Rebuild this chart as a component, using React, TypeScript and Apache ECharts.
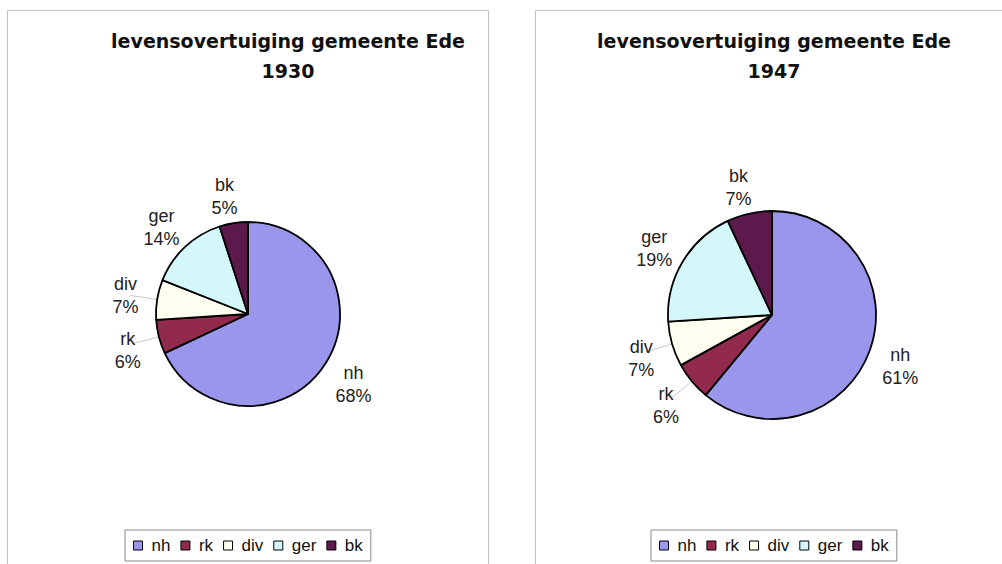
import React, { useEffect, useRef } from 'react';
import * as echarts from 'echarts';

const categories = ['nh', 'rk', 'div', 'ger', 'bk'];
const values1930 = [68, 6, 7, 14, 5];
const values1947 = [61, 6, 7, 19, 7];
const years = ['1930', '1947'];
const titleText = 'levensovertuiging gemeente Ede';
const colors = ['#9a96ec', '#922a4e', '#fffff0', '#d4f7f9', '#5c1a4c'];
const leaderLineCategories = ['rk', 'div'];

const labelFont = '"Liberation Sans", Arial, sans-serif';

export default function App() {
  const ref = useRef<HTMLDivElement>(null);

  useEffect(() => {
    document.body.style.margin = '0';
    const chart = echarts.init(ref.current as HTMLDivElement, null, { renderer: 'svg' });

    const makeSeries = (vals: number[], center: number[], radius: number) => ({
      type: 'pie',
      center,
      radius,
      startAngle: 90,
      clockwise: true,
      avoidLabelOverlap: false,
      silent: true,
      data: categories.map((c, i) => ({
        name: c,
        value: vals[i],
        itemStyle: { color: colors[i] },
        labelLine: { show: leaderLineCategories.includes(c) },
      })),
      itemStyle: { borderColor: '#000', borderWidth: 1.8 },
      label: {
        position: 'outside',
        formatter: (p: any) => `${p.name}\n${Math.round(p.percent)}%`,
        fontSize: 18,
        lineHeight: 23,
        fontFamily: labelFont,
        color: '#222',
      },
      labelLine: { show: false, length: 27, length2: 0, lineStyle: { color: '#c8c8c8', width: 1 } },
      labelLayout: (params: any) => {
        const pts = params.labelLinePoints;
        const lower = pts && pts[1][1] > pts[0][1];
        return { align: 'center', dy: lower ? 7 : 0 };
      },
      emphasis: { disabled: true },
    });

    const legendBase = {
      data: categories,
      top: 530,
      orient: 'horizontal',
      padding: [7, 8, 7, 8],
      itemGap: 10,
      itemWidth: 9,
      itemHeight: 9,
      icon: 'rect',
      selectedMode: false,
      borderColor: '#8a8a8a',
      borderWidth: 1,
      itemStyle: { borderColor: '#000', borderWidth: 1 },
      textStyle: { fontSize: 17, fontFamily: labelFont, color: '#111', padding: [0, 0, 0, 4] },
    };

    const titleCenters = [288, 774];

    chart.setOption({
      animation: false,
      backgroundColor: '#fff',
      title: years.map((y, i) => ({
        text: `${titleText}\n${y}`,
        left: titleCenters[i],
        top: 26,
        textAlign: 'center',
        padding: 0,
        textStyle: {
          fontFamily: '"DejaVu Sans", sans-serif',
          fontWeight: 'bold',
          fontSize: 19,
          lineHeight: 30,
          color: '#111',
        },
      })),
      legend: [
        { ...legendBase, left: 125 },
        { ...legendBase, left: 651 },
      ],
      graphic: [
        {
          type: 'rect',
          silent: true,
          z: -1,
          shape: { x: 7.5, y: 10.5, width: 481, height: 600 },
          style: { fill: 'none', stroke: '#c4c4c4', lineWidth: 1 },
        },
        {
          type: 'rect',
          silent: true,
          z: -1,
          shape: { x: 535.5, y: 10.5, width: 520, height: 600 },
          style: { fill: 'none', stroke: '#c4c4c4', lineWidth: 1 },
        },
      ],
      series: [
        makeSeries(values1930, [248, 314], 92),
        makeSeries(values1947, [772, 315], 104),
      ],
    });

    return () => {
      chart.dispose();
    };
  }, []);

  return <div ref={ref} style={{ width: 1002, height: 564 }} />;
}
